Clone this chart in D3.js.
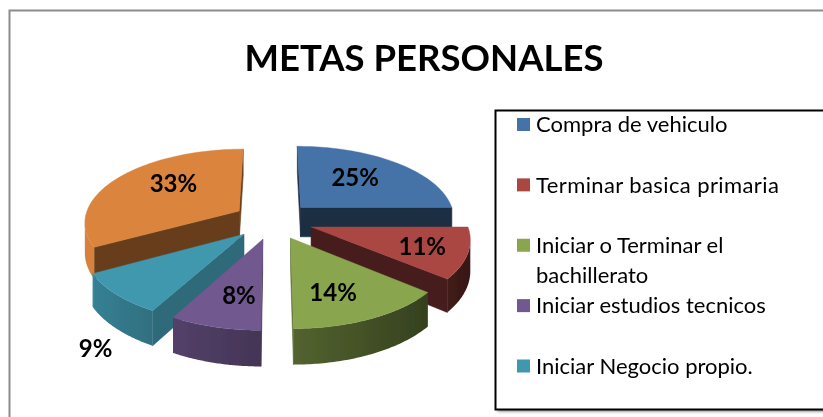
<!DOCTYPE html>
<html><head><meta charset="utf-8">
<script src="https://cdnjs.cloudflare.com/ajax/libs/d3/7.8.5/d3.min.js"></script>
<style>html,body{margin:0;padding:0;background:#fff}svg{display:block}text{font-family:Lato,"Open Sans",sans-serif}</style>
</head><body><svg id="c" width="823" height="417"></svg>
<script>
const legendLabels = [["Compra de vehiculo"],["Terminar basica primaria"],["Iniciar o Terminar el","bachillerato"],["Iniciar estudios tecnicos"],["Iniciar Negocio propio."]];
const values = [25,11,14,8,9,33];
const colors = ["#4572a7","#aa4643","#89a54e","#71588f","#4198af","#db843d"];
const cutShade = [0.40,0.42,0.68,0.55,0.70,0.47];
const labelPolar = [[93,41],[112,111],[105,160],[104,191],[223,211],[96,311]];

const W=823,H=417, cx=273, cy=220.5, R=155, explode=40, depth=30, k=0.47, persp=0.00088;
const svg=d3.select("#c");
const defs=svg.append("defs");
const blur=defs.append("filter").attr("id","soft").attr("x","-5%").attr("y","-5%").attr("width","110%").attr("height","110%");
blur.append("feGaussianBlur").attr("stdDeviation",1.5);
const soft=defs.append("filter").attr("id","aa").attr("x","-5%").attr("y","-5%").attr("width","110%").attr("height","110%");
soft.append("feGaussianBlur").attr("stdDeviation",0.45);

// frame
svg.append("rect").attr("x",9.5).attr("y",10.5).attr("width",W+20).attr("height",H+20).attr("fill","#fff").attr("stroke","#8c8c8c").attr("stroke-width",2);

svg.append("text").attr("x",424).attr("y",71).attr("text-anchor","middle").attr("font-size",36.5).attr("font-weight",700).attr("fill","#000").attr("filter","url(#aa)").text("METAS PERSONALES");

function project(X,Y,z){
  const s=1/(1-persp*Y);
  return [cx+X*s, cy+k*Y*s+z*depth*s];
}
const pie=d3.pie().value(d=>d).sort(null)(values);
const chart=svg.append("g").attr("filter","url(#aa)");
const line=d3.line();
function shade(c,f){const r=d3.rgb(c);return d3.rgb(r.r*f,r.g*f,r.b*f).formatHex();}
function area2(p){let a=0;for(let i=0;i<p.length;i++){const q=p[(i+1)%p.length];a+=p[i][0]*q[1]-q[0]*p[i][1];}return a;}

const slices=pie.map((d,i)=>{
  const mid=(d.startAngle+d.endAngle)/2;
  return {d,i,ox:explode*Math.sin(mid),oy:-explode*Math.cos(mid)};
});
slices.slice().sort((a,b)=>a.oy-b.oy).forEach(sl=>{
  const {d,i,ox,oy}=sl;
  const g=chart.append("g");
  const base=colors[i];
  const pt=(a,r,z)=>project(ox+r*Math.sin(a),oy-r*Math.cos(a),z);
  const angs=d3.range(0,61).map(j=>d.startAngle+(d.endAngle-d.startAngle)*j/60);
  const quad=(p,fill)=>{ if(area2(p)<0){ g.append("path").attr("d",line(p)+"Z").attr("fill",fill).attr("stroke",fill).attr("stroke-width",0.6);} };
  // cut faces
  quad([pt(d.startAngle,0,0),pt(d.startAngle,R,0),pt(d.startAngle,R,1),pt(d.startAngle,0,1)],shade(base,cutShade[i]));
  quad([pt(d.endAngle,R,0),pt(d.endAngle,0,0),pt(d.endAngle,0,1),pt(d.endAngle,R,1)],shade(base,cutShade[i]));
  // outer wall: one path per slice, shaded by a horizontal gradient, lit from the left
  const vis=[];
  for(let j=0;j<60;j++){
    if(area2([pt(angs[j],R,0),pt(angs[j+1],R,0),pt(angs[j+1],R,1),pt(angs[j],R,1)])<0){ if(!vis.length) vis.push(angs[j]); vis.push(angs[j+1]); }
  }
  if(vis.length>1){
    const topEdge=vis.map(a=>pt(a,R,0)), botEdge=vis.map(a=>pt(a,R,1)).reverse();
    const xs=topEdge.map(p=>p[0]), x0=d3.min(xs), x1=d3.max(xs);
    const grad=defs.append("linearGradient").attr("id","wall"+i).attr("gradientUnits","userSpaceOnUse").attr("x1",x0).attr("x2",x1).attr("y1",0).attr("y2",0);
    const stops=vis.map(a=>({o:(pt(a,R,0)[0]-x0)/(x1-x0),s:Math.sin(a)})).sort((p,q)=>p.o-q.o);
    stops.forEach(st=>{
      const f=st.s<-0.87?0.98:0.6-0.28*st.s;
      grad.append("stop").attr("offset",st.o).attr("stop-color",shade(base,f));
    });
    g.append("path").attr("d",line(topEdge.concat(botEdge))+"Z").attr("fill","url(#wall"+i+")");
  }
  // top
  const top=[pt(0,0,0)].concat(angs.map(a=>pt(a,R,0)));
  g.append("path").attr("d",line(top)+"Z").attr("fill",base).attr("stroke",base).attr("stroke-width",0.4);
});

// data labels
slices.forEach(sl=>{
  const [r,a]=labelPolar[sl.i], t=a*Math.PI/180;
  const p=project(sl.ox+r*Math.sin(t),sl.oy-r*Math.cos(t),0);
  svg.append("text").attr("x",p[0]).attr("y",p[1]).attr("dy","0.35em").attr("text-anchor","middle")
    .attr("font-size",24).attr("font-weight",700).attr("fill","#000").attr("filter","url(#aa)").text(values[sl.i]+"%");
});

// legend
const lx=495.5, ly=110.5, lw=W+20, lh=299;
svg.append("rect").attr("x",lx+2).attr("y",ly+2).attr("width",lw).attr("height",lh).attr("fill","#888").attr("filter","url(#soft)");
svg.append("rect").attr("x",lx).attr("y",ly).attr("width",lw).attr("height",lh).attr("fill","#fff").attr("stroke","#000").attr("stroke-width",2);
const rowY=d3.scalePoint().domain(d3.range(5)).range([124.5,366]);
const leg=svg.append("g").attr("filter","url(#aa)");
legendLabels.forEach((lines,i)=>{
  const y=rowY(i);
  leg.append("rect").attr("x",517).attr("y",y-6.5).attr("width",13).attr("height",13).attr("fill",colors[i]);
  lines.forEach((t,j)=>{
    leg.append("text").attr("x",536).attr("y",y+j*30).attr("dy","0.35em").attr("font-size",22).attr("font-weight",400).attr("letter-spacing",i===1?0.4:0).attr("fill","#000").text(t);
  });
});
</script></body></html>
